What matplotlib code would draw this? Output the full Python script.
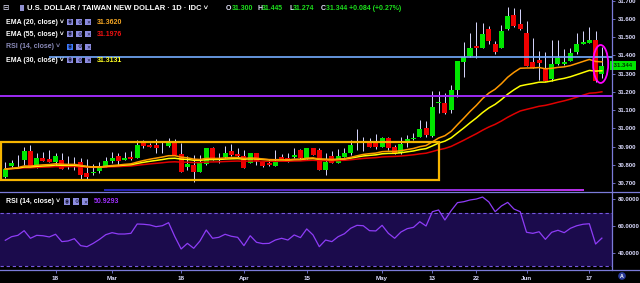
import numpy as np
import pandas as pd
import matplotlib
matplotlib.use('Agg')
import matplotlib.pyplot as plt
from matplotlib.patches import Rectangle, Ellipse
from matplotlib.collections import LineCollection
from matplotlib.lines import Line2D

plt.rcParams['font.family'] = ['Liberation Sans', 'DejaVu Sans']

# daily candles, USD/TWD (IDC), Feb 6 - Jun 19 2019
dates = pd.bdate_range('2019-02-06', '2019-06-19')

opens = [30.734, 30.795, 30.818, 30.826, 30.876, 30.799, 30.839, 30.832, 30.817, 30.826,
         30.788, 30.800, 30.815, 30.756, 30.753, 30.766, 30.788, 30.822, 30.848, 30.828,
         30.844, 30.839, 30.921, 30.908, 30.908, 30.895, 30.903, 30.925, 30.859, 30.789,
         30.799, 30.762, 30.806, 30.892, 30.836, 30.841, 30.876, 30.859, 30.848, 30.811,
         30.864, 30.817, 30.808, 30.795, 30.841, 30.839, 30.841, 30.881, 30.835, 30.890,
         30.881, 30.771, 30.848, 30.811, 30.844, 30.866, 30.921, 30.926, 30.930, 30.926,
         30.899, 30.945, 30.896, 30.863, 30.918, 30.940, 30.954, 31.003, 30.958, 31.138,
         31.141, 31.101, 31.210, 31.366, 31.397, 31.452, 31.442, 31.543, 31.463, 31.442,
         31.543, 31.622, 31.573, 31.522, 31.366, 31.375, 31.326, 31.269, 31.353, 31.353,
         31.371, 31.421, 31.461, 31.470, 31.485, 31.300]
highs = [30.815, 30.826, 30.854, 30.897, 30.908, 30.866, 30.870, 30.881, 30.866, 30.866,
         30.848, 30.841, 30.835, 30.832, 30.804, 30.817, 30.844, 30.868, 30.864, 30.872,
         30.876, 30.936, 30.936, 30.921, 30.941, 30.930, 30.949, 30.940, 30.918, 30.848,
         30.854, 30.854, 30.894, 30.896, 30.866, 30.903, 30.912, 30.890, 30.881, 30.866,
         30.866, 30.820, 30.830, 30.881, 30.861, 30.866, 30.890, 30.886, 30.892, 30.892,
         30.890, 30.863, 30.876, 30.886, 30.890, 30.936, 30.996, 30.950, 30.946, 30.969,
         30.954, 30.950, 30.910, 30.954, 30.963, 30.973, 31.046, 31.040, 31.205, 31.207,
         31.192, 31.238, 31.372, 31.475, 31.525, 31.585, 31.580, 31.562, 31.480, 31.567,
         31.664, 31.659, 31.653, 31.590, 31.494, 31.424, 31.417, 31.485, 31.485, 31.434,
         31.440, 31.522, 31.534, 31.558, 31.534, 31.445]
lows = [30.730, 30.790, 30.790, 30.799, 30.788, 30.784, 30.820, 30.815, 30.800, 30.775,
        30.778, 30.771, 30.722, 30.722, 30.744, 30.753, 30.785, 30.808, 30.800, 30.825,
        30.828, 30.835, 30.890, 30.897, 30.863, 30.866, 30.900, 30.852, 30.760, 30.771,
        30.707, 30.760, 30.800, 30.828, 30.808, 30.838, 30.850, 30.845, 30.781, 30.808,
        30.797, 30.790, 30.795, 30.793, 30.830, 30.815, 30.838, 30.833, 30.830, 30.852,
        30.770, 30.744, 30.810, 30.808, 30.840, 30.854, 30.881, 30.878, 30.897, 30.885,
        30.897, 30.881, 30.860, 30.860, 30.896, 30.935, 30.950, 30.955, 30.955, 31.082,
        31.080, 31.082, 31.174, 31.280, 31.390, 31.384, 31.440, 31.465, 31.410, 31.440,
        31.540, 31.558, 31.540, 31.340, 31.330, 31.265, 31.258, 31.262, 31.350, 31.350,
        31.370, 31.410, 31.460, 31.468, 31.255, 31.274]
closes = [30.777, 30.811, 30.822, 30.876, 30.790, 30.837, 30.822, 30.817, 30.848, 30.778,
          30.792, 30.805, 30.744, 30.734, 30.762, 30.790, 30.821, 30.839, 30.822, 30.839,
          30.830, 30.908, 30.903, 30.899, 30.894, 30.900, 30.918, 30.854, 30.762, 30.804,
          30.762, 30.810, 30.892, 30.830, 30.838, 30.864, 30.854, 30.848, 30.784, 30.863,
          30.819, 30.795, 30.797, 30.822, 30.832, 30.817, 30.854, 30.835, 30.890, 30.854,
          30.771, 30.817, 30.811, 30.848, 30.866, 30.908, 30.930, 30.930, 30.899, 30.896,
          30.945, 30.894, 30.866, 30.914, 30.941, 30.948, 30.995, 30.963, 31.117, 31.146,
          31.082, 31.210, 31.369, 31.390, 31.442, 31.442, 31.518, 31.481, 31.417, 31.534,
          31.616, 31.562, 31.543, 31.344, 31.333, 31.357, 31.260, 31.353, 31.384, 31.364,
          31.412, 31.461, 31.474, 31.485, 31.260, 31.344]

# RSI(14)
rsi = [49.3, 52.0, 53.0, 56.5, 50.8, 53.0, 52.7, 51.8, 53.8, 48.3,
       48.8, 50.5, 45.3, 44.5, 47.0, 50.0, 53.5, 55.0, 54.0, 54.0,
       54.5, 61.5, 61.3, 60.8, 59.5, 60.2, 62.5, 52.0, 42.8, 47.0,
       43.3, 48.8, 57.0, 50.8, 51.5, 53.8, 52.3, 51.5, 45.3, 52.7,
       47.8, 46.8, 47.0, 49.5, 50.8, 49.5, 53.3, 51.3, 57.8, 53.3,
       44.5, 49.5, 48.3, 52.0, 54.2, 58.3, 60.5, 60.2, 56.5, 56.3,
       60.5, 54.5, 50.8, 55.5, 58.0, 59.0, 63.2, 60.0, 70.7, 72.0,
       64.5, 71.5, 77.5, 78.2, 79.5, 80.2, 81.7, 78.0, 70.7, 75.0,
       77.7, 72.7, 70.7, 55.3, 54.5, 55.7, 50.0, 55.3, 56.8, 55.0,
       58.3, 60.2, 61.3, 61.7, 46.5, 50.93]

tick_dates = ['2019-02-18', '2019-03-01', '2019-03-18', '2019-04-01', '2019-04-15',
              '2019-05-01', '2019-05-13', '2019-05-22', '2019-06-03', '2019-06-17']
tick_labels = ['18', 'Mar', '18', 'Apr', '15', 'May', '13', '22', 'Jun', '17']
price_ticks = [30.7, 30.8, 30.9, 31.0, 31.1, 31.2, 31.3, 31.4, 31.5, 31.6, 31.7]
rsi_ticks = [40, 60, 80]

# drawings on the chart
resist_level = 31.39
resist_from = '2019-02-15'
support_level = 31.175
floor_level = 30.661
floor_from, floor_to = '2019-02-28', '2019-06-14'
box_lo, box_hi = 30.718, 30.927
box_to = '2019-05-14'

W, H = 640, 283
BG = '#000000'
AXC = '#7b7bd9'
LBL = '#dcdcff'
UP, DN = '#00e600', '#ee0000'

x = np.arange(len(dates))
pos = lambda d: dates.get_loc(pd.Timestamp(d))
o, h, l, c = map(np.array, (opens, highs, lows, closes))

cs = pd.Series(closes)
ema20 = cs.ewm(span=20, adjust=False).mean()
ema30 = cs.ewm(span=30, adjust=False).mean()
ema55 = cs.ewm(span=55, adjust=False).mean()

fig = plt.figure(figsize=(W / 100, H / 100), dpi=100, facecolor=BG)
ax = fig.add_axes([0, 91 / H, 612 / W, 192 / H], facecolor=BG)
ax2 = fig.add_axes([0, 13 / H, 612 / W, 78 / H], facecolor=BG, sharex=ax)

# candles
up = c >= o
col = np.where(up, UP, DN)
ax.vlines(x, l, h, color='#d8d8ff', lw=0.7, zorder=2)
body = np.maximum(np.abs(c - o), 0.003)
ax.bar(x, body, bottom=np.minimum(o, c), width=0.8, color=col, lw=0, zorder=3)

ax.plot(x, ema55, color='#e00000', lw=1.1, zorder=4)
ax.plot(x, ema30, color='#ffff00', lw=1.1, zorder=4)
ax.plot(x, ema20, color='#ff9900', lw=1.1, zorder=4)

ax.hlines(resist_level, pos(resist_from), 97, color='#74acff', lw=1.2, zorder=5)
ax.axhline(support_level, color='#9d2bf5', lw=1.4, zorder=5)
fx = np.linspace(pos(floor_from) - 0.3, pos(floor_to) + 0.1, 60)
segs = [[(fx[k], floor_level), (fx[k + 1], floor_level)] for k in range(len(fx) - 1)]
grad = plt.matplotlib.colors.LinearSegmentedColormap.from_list('g', ['#2a2acc', '#cc33ff'])
ax.add_collection(LineCollection(segs, colors=grad(np.linspace(0, 1, len(segs))), lw=1.3, zorder=5))
ax.add_patch(Rectangle((-0.7, box_lo), pos(box_to) + 0.7, box_hi - box_lo,
                       fill=False, ec='#f7b500', lw=1.6, zorder=6))
ax.add_patch(Ellipse((x[-1] - 0.2, 31.353), 2.4, 0.2085, fill=False, ec='#ff00ff', lw=1.3, zorder=6))

ax.set_xlim(-0.844, 96.61)
ax.set_ylim(30.6505, 31.704)
ax.yaxis.tick_right()
ax.set_yticks(price_ticks)
ax.set_yticklabels(['%.3f' % v for v in price_ticks])
ax.tick_params(axis='y', colors=AXC, labelcolor=LBL, labelsize=4.3, length=2.5, width=0.6, pad=2)
ax.tick_params(axis='x', bottom=False, labelbottom=False)
ax.text(1.0, 31.344, ' 31.344 ', transform=ax.get_yaxis_transform(), fontsize=4.3, fontweight='bold',
        color='#003300', ha='left', va='center', clip_on=False,
        bbox=dict(boxstyle='square,pad=0.4', fc='#00e600', ec='none'))

# RSI pane
ax2.axhspan(30, 70, color='#1b0b4c', lw=0, zorder=0)
for lev in (30, 70):
    ax2.axhline(lev, color='#7658e0', lw=0.8, ls=(0, (3, 2.5)), zorder=1)
ax2.plot(x, rsi, color='#8e3cf7', lw=0.9, zorder=3)
ax2.set_ylim(27.04, 85.47)
ax2.yaxis.tick_right()
ax2.set_yticks(rsi_ticks)
ax2.set_yticklabels(['%.4f' % v for v in rsi_ticks])
ax2.tick_params(axis='y', colors=AXC, labelcolor=LBL, labelsize=4.3, length=2.5, width=0.6, pad=2)
ax2.set_xticks([pos(d) for d in tick_dates])
ax2.set_xticklabels(tick_labels)
ax2.tick_params(axis='x', colors=AXC, labelcolor=LBL, labelsize=4.5, length=2, width=0.6, pad=2)
for lab in ax2.get_xticklabels() + ax2.get_yticklabels() + ax.get_yticklabels():
    lab.set_fontweight('bold')

for a in (ax, ax2):
    for s in a.spines.values():
        s.set_visible(False)

# frame lines
fig.add_artist(Line2D([612 / W, 612 / W], [1, 13 / H], color=AXC, lw=0.9))
fig.add_artist(Line2D([0, 1], [91 / H, 91 / H], color=AXC, lw=0.9))
fig.add_artist(Line2D([0, 1], [13 / H, 13 / H], color=AXC, lw=0.9))

# legend
rend = fig.canvas.get_renderer()


def seq(px, py, parts, size=5.0, weight='bold'):
    for s, colr in parts:
        t = fig.text(px / W, 1 - py / H, s, color=colr, fontsize=size, fontweight=weight,
                     ha='left', va='center')
        px += t.get_window_extent(rend).width
    return px


def icons(px, py, first='#8c8ce0'):
    for k, g in enumerate(['◉', '⚙', '✕']):
        fc = first if k == 0 else '#8c8ce0'
        fig.add_artist(Rectangle(((px + k * 9) / W, 1 - (py + 3.2) / H), 6.4 / W, 6.4 / H,
                                 transform=fig.transFigure, fc=fc, ec='none'))
        fig.text((px + k * 9 + 3.2) / W, 1 - py / H, g, fontsize=3.4, color='#141430',
                 family='DejaVu Sans', ha='center', va='center')


seq(2, 8, [('⊟', '#e8e8ff')], size=5.5, weight='normal')
fig.add_artist(Rectangle((20 / W, 1 - 11 / H), 4 / W, 6 / H, transform=fig.transFigure, fc='#9090d0', ec='none'))
seq(27, 8, [('U.S. DOLLAR / TAIWAN NEW DOLLAR · 1D · IDC ˅', '#ffffff')], size=5.5)
G = '#1de01d'
seq(226, 8, [('O', '#e8e8ff'), ('31.300', G)], size=5.0)
seq(257, 8, [('H', '#e8e8ff'), ('31.445', G)], size=5.0)
seq(289, 8, [('L', '#e8e8ff'), ('31.274', G)], size=5.0)
seq(321, 8, [('C', '#e8e8ff'), ('31.344 +0.084 (+0.27%)', G)], size=5.0)

rows = [(22, 'EMA (20, close) ˅', '31.3620', '#f5a623', '#ffffff'),
        (34, 'EMA (55, close) ˅', '31.1976', '#ee1111', '#ffffff'),
        (47, 'RSI (14, close) ˅', '', '#000000', '#8a8ab8'),
        (60, 'EMA (30, close) ˅', '31.3131', '#ffff22', '#ffffff')]
for py, name, val, vcol, ncol in rows:
    seq(6, py, [(name, ncol)])
    icons(67, py, '#3d7bff' if val == '' else '#8c8ce0')
    if val:
        seq(97, py, [(val, vcol)])

seq(6, 201.5, [('RSI (14, close) ˅', '#ffffff')])
icons(64, 201.5)
seq(94, 201.5, [('50.9293', '#a030ff')])

fig.text(622 / W, 1 - 276 / H, 'A', fontsize=3.8, fontweight='bold', color='#ffffff', ha='center', va='center',
         bbox=dict(boxstyle='circle,pad=0.25', fc='#2a3a9a', ec='none'))

fig.savefig('out.png', dpi=100, facecolor=BG)
